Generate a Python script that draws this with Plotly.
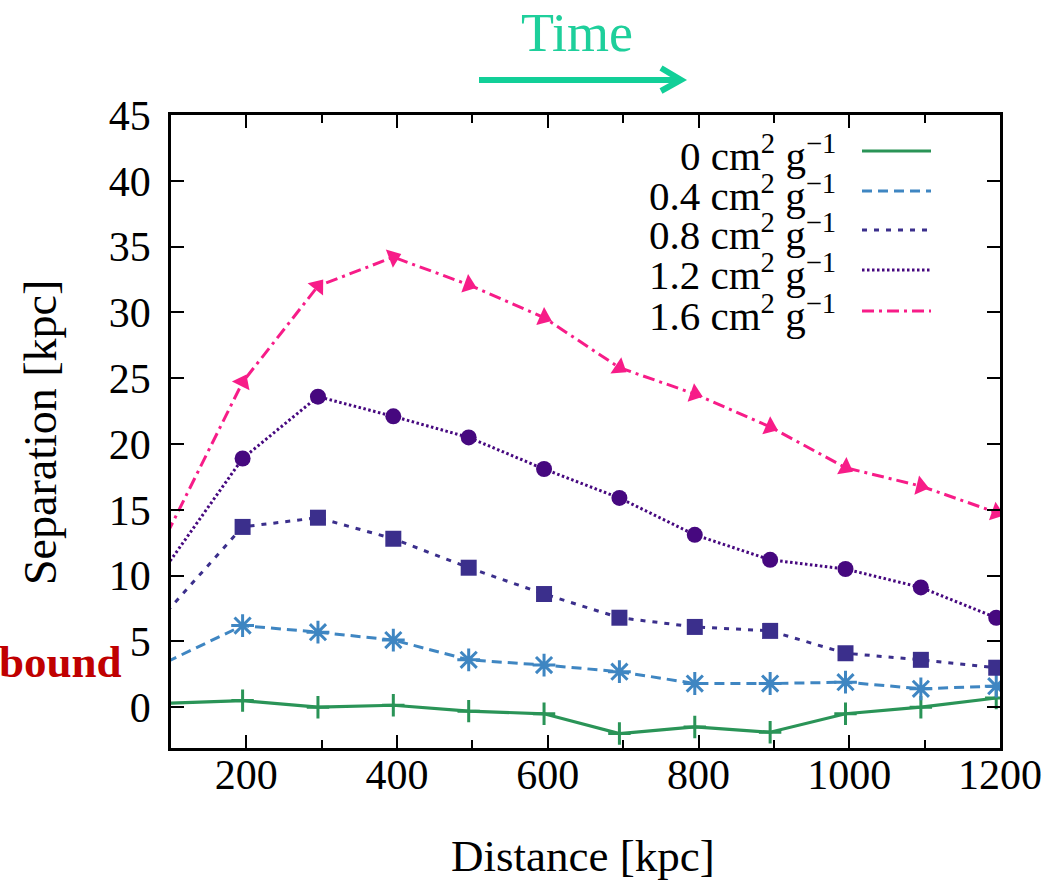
import plotly.graph_objects as go

# ---- data ----
distance = [95, 195, 295, 395, 495, 595, 695, 795, 895, 995, 1095, 1195]
sep_0 = [0.3, 0.5, 0.0, 0.15, -0.3, -0.5, -2.0, -1.5, -1.9, -0.5, 0.0, 0.7]
sep_04 = [3.46, 6.2, 5.7, 5.1, 3.6, 3.2, 2.7, 1.8, 1.8, 1.9, 1.4, 1.6]
sep_08 = [7.3, 13.7, 14.4, 12.8, 10.6, 8.6, 6.8, 6.1, 5.8, 4.1, 3.6, 3.0]
sep_12 = [10.8, 18.9, 23.6, 22.1, 20.5, 18.1, 15.9, 13.1, 11.2, 10.5, 9.1, 6.8]
sep_16 = [13.2, 24.7, 32.0, 34.2, 32.1, 29.6, 25.8, 23.8, 21.3, 18.2, 16.8, 14.8]

labels = ["0", "0.4", "0.8", "1.2", "1.6"]
x_ticks = [200, 400, 600, 800, 1000, 1200]
y_ticks = [0, 5, 10, 15, 20, 25, 30, 35, 40, 45]

colors = ["#2a9457", "#3f86c2", "#3b2f8c", "#46087f", "#f71c88"]
dashes = ["solid", "10px,6px", "5px,7px", "2.5px,2.5px", "12px,5px,3px,5px"]
symbols = ["cross-thin-open", "asterisk-open", "square", "circle", "triangle-up"]
msizes = [16, 19, 16, 16, 17]

FONT = "Liberation Serif, Times New Roman, serif"

fig = go.Figure()
series = [sep_0, sep_04, sep_08, sep_12, sep_16]
for i, s in enumerate(series):
    sizes = [0] + [msizes[i]] * (len(distance) - 1)
    marker = dict(symbol=symbols[i], size=sizes, color=colors[i], opacity=1)
    if symbols[i] in ("cross-thin-open", "asterisk-open"):
        marker["line"] = dict(color=colors[i], width=3)
    else:
        marker["line"] = dict(width=0)
    if i == 4:
        marker["angleref"] = "previous"
        marker["angle"] = 0
    fig.add_trace(go.Scatter(
        x=distance, y=s, mode="lines+markers",
        line=dict(color=colors[i], width=3.2 if i == 0 else 3, dash=dashes[i]),
        marker=marker, showlegend=False, cliponaxis=True,
    ))

L, R, T, B = 171, 64, 115, 136
W, H = 1064, 884
pw, ph = W - L - R, H - T - B


def px(xp):
    return (xp - L) / pw


def py(yp):
    return (H - B - yp) / ph


axis_common = dict(
    showline=True, linecolor="black", linewidth=2.5, mirror="ticks",
    ticks="inside", ticklen=13, tickwidth=2, tickcolor="black",
    showgrid=False, zeroline=False,
    tickfont=dict(family=FONT, size=42, color="black"),
)

fig.update_xaxes(range=[100, 1200], tickvals=x_ticks, ticktext=[str(v) for v in x_ticks],
                 ticklabelstandoff=-12,
                 minor=dict(ticks="inside", ticklen=8, tickwidth=2, tickcolor="black", dtick=100, tick0=0, showgrid=False),
                 **axis_common)
fig.update_yaxes(range=[-3.1, 45], tickvals=y_ticks, ticktext=[str(v) for v in y_ticks],
                 ticklabelstandoff=9, **axis_common)

annotations = []
# axis titles
annotations.append(dict(text="Distance [kpc]", x=px(583), y=py(856), xref="paper", yref="paper",
                        showarrow=False, font=dict(family=FONT, size=45, color="black"),
                        xanchor="center", yanchor="middle"))
annotations.append(dict(text="Separation [kpc]", x=px(40), y=py(433), xref="paper", yref="paper",
                        showarrow=False, textangle=-90, font=dict(family=FONT, size=46, color="black"),
                        xanchor="center", yanchor="middle"))
# Time label
annotations.append(dict(text="Time", x=px(577), y=py(33), xref="paper", yref="paper",
                        showarrow=False, font=dict(family=FONT, size=54, color="#1ecf9b"),
                        xanchor="center", yanchor="middle"))
# label at left (partially cut in the reference)
annotations.append(dict(text="<b>bound</b>", x=px(124), y=py(662), xref="paper", yref="paper",
                        showarrow=False, font=dict(family=FONT, size=45, color="#c00000"),
                        xanchor="right", yanchor="middle"))

shapes = []
# Time arrow
shapes.append(dict(type="line", xref="paper", yref="paper", x0=px(479), y0=py(80), x1=px(678), y1=py(80),
                   line=dict(color="#12cf98", width=6)))
shapes.append(dict(type="path", xref="paper", yref="paper",
                   path=f"M {px(661)},{py(68)} L {px(681)},{py(80)} L {px(661)},{py(91)}",
                   line=dict(color="#12cf98", width=6)))

# manual legend
rows = [151, 191, 230, 270, 311]
for i, lab in enumerate(labels):
    annotations.append(dict(text=f"{lab} cm<sup>2</sup> g<sup>\u22121</sup>", x=px(838), y=py(rows[i] + 2),
                            xref="paper", yref="paper", showarrow=False,
                            font=dict(family=FONT, size=41, color="black"),
                            xanchor="right", yanchor="middle", align="right"))
    shapes.append(dict(type="line", xref="paper", yref="paper", x0=px(862), x1=px(931),
                       y0=py(rows[i]), y1=py(rows[i]),
                       line=dict(color=colors[i], width=3.2, dash=dashes[i])))

fig.update_layout(
    width=W, height=H, margin=dict(l=L, r=R, t=T, b=B),
    paper_bgcolor="white", plot_bgcolor="white",
    annotations=annotations, shapes=shapes,
    font=dict(family=FONT, color="black"),
)

fig.write_html("out.html")
